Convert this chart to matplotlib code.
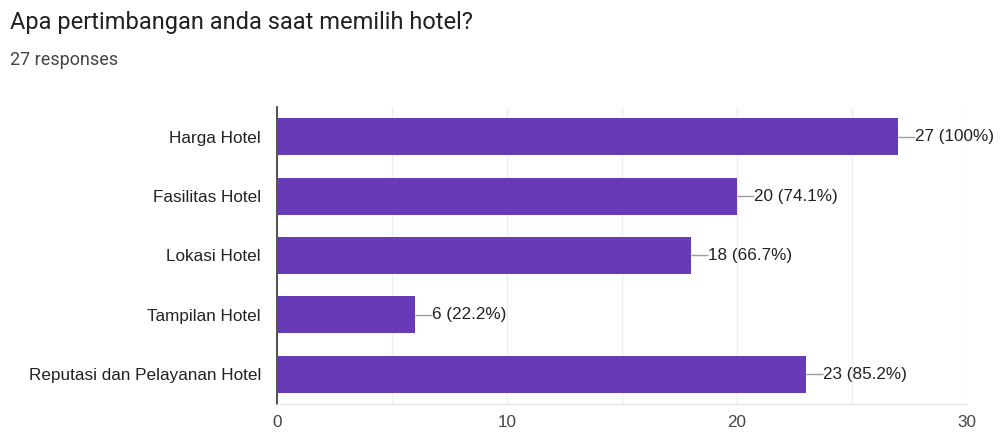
import matplotlib
matplotlib.use('Agg')
import matplotlib.pyplot as plt

plt.rcParams['font.family'] = ['Roboto', 'DejaVu Sans']
ARIAL = ['Liberation Sans', 'DejaVu Sans']

categories = ['Harga Hotel', 'Fasilitas Hotel', 'Lokasi Hotel',
              'Tampilan Hotel', 'Reputasi dan Pelayanan Hotel']
counts = [27, 20, 18, 6, 23]
total = 27
value_labels = ['27 (100%)', '20 (74.1%)', '18 (66.7%)', '6 (22.2%)', '23 (85.2%)']
xticks = [0, 10, 20, 30]

fig = plt.figure(figsize=(10.01, 4.33), dpi=100)
ax = fig.add_axes([0.2767, 0.067, 0.966 - 0.2767, 0.7529 - 0.067])

ypos = list(range(len(categories)))
ax.barh(ypos, counts, height=0.62, color='#673ab7', zorder=3)

# garis penunjuk + label nilai
for y, c, lab in zip(ypos, counts, value_labels):
    ax.plot([c, c + 0.72], [y, y], color='#9e9e9e', lw=1, zorder=3,
            solid_capstyle='butt')
    ax.text(c + 0.74, y, lab, va='center', ha='left', fontsize=12.3,
            color='#222222', family=ARIAL, zorder=4)

ax.set_xlim(0, 30)
ax.set_ylim(len(categories) - 0.5, -0.5)
ax.set_yticks(ypos)
ax.set_yticklabels(categories, fontsize=12.3, color='#222222', family=ARIAL)
ax.set_xticks(xticks)
ax.set_xticklabels([str(t) for t in xticks], fontsize=12.3, color='#444444',
                   family=ARIAL)
ax.set_xticks(range(0, 31, 5), minor=True)
ax.tick_params(axis='y', length=0, pad=11.5)
ax.tick_params(axis='x', length=0, pad=8)
ax.tick_params(axis='x', which='minor', length=0)
ax.grid(True, axis='x', which='both', color='#eeeeee', lw=1, zorder=0)

for s in ['top', 'right']:
    ax.spines[s].set_visible(False)
ax.spines['bottom'].set_color('#e0e0e0')
ax.spines['left'].set_color('#333333')
ax.spines['left'].set_linewidth(1.2)

fig.text(0.01, 0.948, 'Apa pertimbangan anda saat memilih hotel?',
         fontsize=17, color='#202124', va='center', ha='left')
fig.text(0.01, 0.862, '27 responses', fontsize=13, color='#444444',
         va='center', ha='left')

fig.savefig('out.png', dpi=100)
